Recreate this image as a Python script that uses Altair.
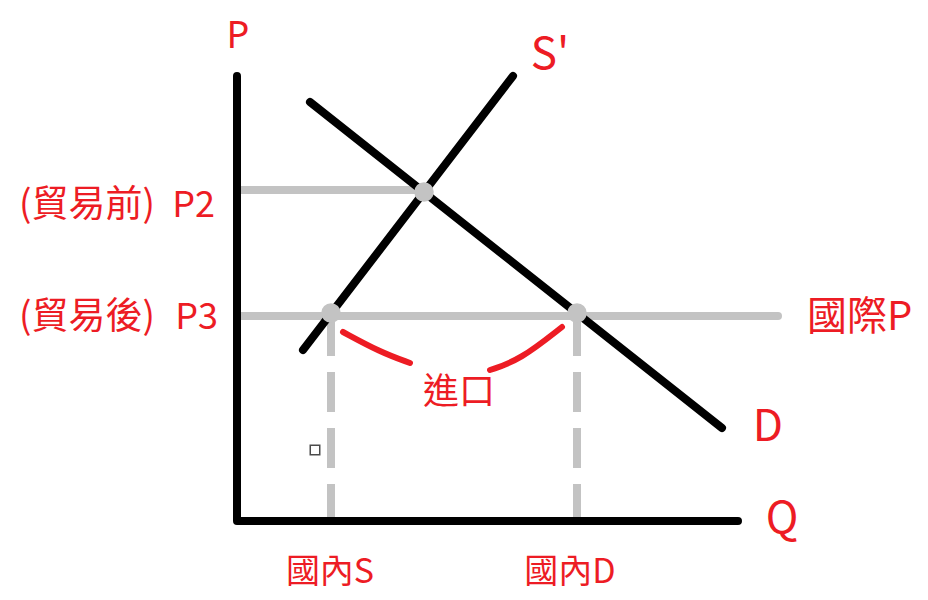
import altair as alt
import pandas as pd

# Economic diagram values (Q = quantity, P = price units)
axis_q = [0.0, 0.0, 10.02]
axis_p = [8.9, 0.0, 0.0]

supply_q = [1.32, 5.52]
supply_p = [3.42, 8.9]
demand_q = [1.46, 9.7]
demand_p = [8.38, 1.86]

p2 = 6.62            # price before trade
p3 = 4.1             # world price (after trade)
eq_q = 3.74          # domestic equilibrium quantity
p3_end_q = 10.82
dom_s_q = 1.88       # domestic supply at world price
dom_d_q = 6.8        # domestic demand at world price

brace_left_q = [2.12, 2.86, 3.46]
brace_left_p = [3.78, 3.38, 3.16]
brace_right_q = [5.06, 5.66, 6.5]
brace_right_p = [3.02, 3.22, 3.88]

RED = "#ed1c24"
GRAY = "#c3c3c3"
FONT = "Noto Sans CJK TC"

x_scale = alt.Scale(domain=[-4.58, 13.66], nice=False, zero=False)
y_scale = alt.Scale(domain=[-1.42, 10.26], nice=False, zero=False)
X = lambda f="q": alt.X(f"{f}:Q", scale=x_scale, axis=None)
Y = lambda f="p": alt.Y(f"{f}:Q", scale=y_scale, axis=None)

def seg(qs, ps, name):
    return pd.DataFrame({"q": qs, "p": ps, "id": name, "o": range(len(qs))})

axes_df = pd.concat([seg(axis_q, axis_p, "axes")])
black_df = pd.concat([seg(supply_q, supply_p, "S"), seg(demand_q, demand_p, "D")])
gray_df = pd.concat([seg([0.0, eq_q], [p2, p2], "p2"), seg([0.06, p3_end_q], [p3, p3], "p3")])
dash_df = pd.concat([seg([dom_s_q, dom_s_q], [p3, 0.0], "ds"), seg([dom_d_q, dom_d_q], [p3, 0.0], "dd")])
brace_df = pd.concat([seg(brace_left_q, brace_left_p, "L"), seg(brace_right_q, brace_right_p, "R")])
dots_df = pd.DataFrame({"q": [eq_q, dom_s_q, dom_d_q], "p": [p2 - 0.04, p3 + 0.06, p3 + 0.06]})

gray_lines = alt.Chart(gray_df).mark_line(color=GRAY, strokeWidth=8, strokeCap="round").encode(
    x=X(), y=Y(), detail="id:N", order="o:Q")
dash_lines = alt.Chart(dash_df).mark_line(color=GRAY, strokeWidth=8, strokeDash=[40, 16]).encode(
    x=X(), y=Y(), detail="id:N", order="o:Q")
axes = alt.Chart(axes_df).mark_line(color="black", strokeWidth=8, strokeCap="round", strokeJoin="round").encode(
    x=X(), y=Y(), order="o:Q")
black_lines = alt.Chart(black_df).mark_line(color="black", strokeWidth=8, strokeCap="round").encode(
    x=X(), y=Y(), detail="id:N", order="o:Q")
dots = alt.Chart(dots_df).mark_circle(color=GRAY, opacity=1, size=380).encode(x=X(), y=Y())
brace = alt.Chart(brace_df).mark_line(color=RED, strokeWidth=6, strokeCap="round", interpolate="basis").encode(
    x=X(), y=Y(), detail="id:N", order="o:Q")

square_df = pd.DataFrame({"q": [1.56], "p": [1.42]})
square = alt.Chart(square_df).mark_point(shape="square", color="black", filled=False, size=90, strokeWidth=1.5).encode(
    x=X(), y=Y())

def labels(df, size, align="center", font=FONT):
    return alt.Chart(df).mark_text(color=RED, font=font, fontSize=size, align=align, baseline="middle").encode(
        x=X(), y=Y(), text="t:N")

lab_p = labels(pd.DataFrame({"t": ["P"], "q": [0.02], "p": [9.68]}), 38, font="Noto Sans")
lab_big = labels(pd.DataFrame({"t": ["S'", "D", "Q"],
                               "q": [6.26, 10.62, 10.9],
                               "p": [9.3, 1.86, 0.02]}), 44)
lab_world = labels(pd.DataFrame({"t": ["國際P"], "q": [11.4], "p": [4.06]}), 40, "left")
lab_paren = labels(pd.DataFrame({"t": ["(貿易前)", "(貿易後)"],
                                 "q": [-1.64, -1.64], "p": [6.3, 4.06]}), 37, "right")
lab_pname = labels(pd.DataFrame({"t": ["P2", "P3"],
                                 "q": [-0.44, -0.38], "p": [6.3, 4.06]}), 36, "right")
lab_mid = labels(pd.DataFrame({"t": ["進口"], "q": [4.44], "p": [2.56]}), 36)
lab_qty = labels(pd.DataFrame({"t": ["國內S", "國內D"],
                               "q": [1.86, 6.66], "p": [-1.03, -1.03]}), 34)

chart = alt.layer(gray_lines, dash_lines, axes, black_lines, dots, brace, square,
                  lab_p, lab_big, lab_world, lab_paren, lab_pname, lab_mid, lab_qty).properties(
    width=912, height=584, autosize=alt.AutoSizeParams(type="none"), padding=0
).configure_view(stroke=None)

chart.save("out.html", embed_options={"renderer": "svg", "actions": False})
